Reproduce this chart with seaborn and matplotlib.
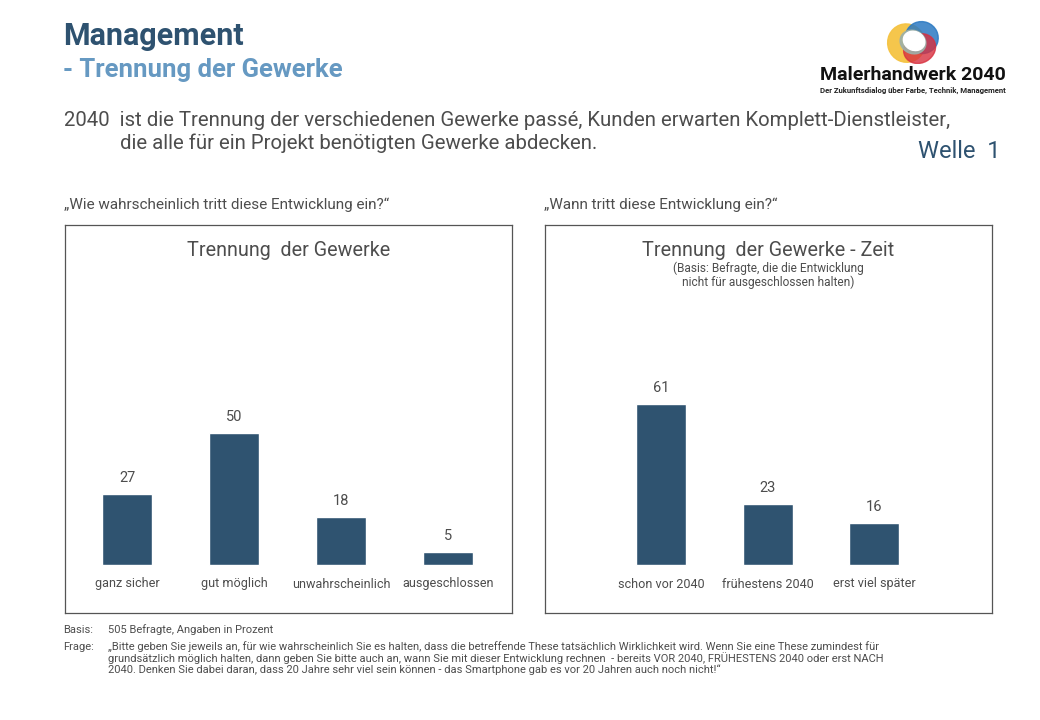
import matplotlib
matplotlib.use("Agg")
import matplotlib.pyplot as plt
import matplotlib.patches as mpatches
import seaborn as sns
import pandas as pd

# ---------------- data ----------------
cats_left = ["ganz sicher", "gut möglich", "unwahrscheinlich", "ausgeschlossen"]
vals_left = [27, 50, 18, 5]
cats_right = ["schon vor 2040", "frühestens 2040", "erst viel später"]
vals_right = [61, 23, 16]

title_main = "Management"
title_sub = "- Trennung der Gewerke"
statement_1 = "2040  ist die Trennung der verschiedenen Gewerke passé, Kunden erwarten Komplett-Dienstleister,"
statement_2 = "die alle für ein Projekt benötigten Gewerke abdecken."
wave = "Welle  1"
q_left = "„Wie wahrscheinlich tritt diese Entwicklung ein?“"
q_right = "„Wann tritt diese Entwicklung ein?“"
panel_left = "Trennung  der Gewerke"
panel_right = "Trennung  der Gewerke - Zeit"
panel_right_sub = "(Basis: Befragte, die die Entwicklung\nnicht für ausgeschlossen halten)"
basis = "505 Befragte, Angaben in Prozent"
frage = ("„Bitte geben Sie jeweils an, für wie wahrscheinlich Sie es halten, dass die betreffende These tatsächlich Wirklichkeit wird. Wenn Sie eine These zumindest für\n"
         "grundsätzlich möglich halten, dann geben Sie bitte auch an, wann Sie mit dieser Entwicklung rechnen  - bereits VOR 2040, FRÜHESTENS 2040 oder erst NACH\n"
         "2040. Denken Sie dabei daran, dass 20 Jahre sehr viel sein können - das Smartphone gab es vor 20 Jahren auch noch nicht!“")

# ---------------- style ----------------
sns.set_theme(style="white")
plt.rcParams["font.family"] = ["Roboto", "DejaVu Sans"]

BAR = "#2F5370"
DARK = "#2E5270"
LIGHT = "#6699C2"
GREY = "#4D4D4D"
W, H = 1040, 720

fig = plt.figure(figsize=(10.4, 7.2), dpi=100)
fig.patch.set_facecolor("white")


def fx(x):
    return x / W


def fy(y):
    return 1 - y / H


def ftext(x, y, s, **kw):
    return fig.text(fx(x), fy(y), s, **kw)


# header
ftext(63, 36, title_main, fontsize=22, fontweight="bold", color=DARK, va="center")
ftext(63, 70, title_sub, fontsize=18.5, fontweight="bold", color=LIGHT, va="center")
ftext(64, 121, statement_1, fontsize=14.7, color=GREY, va="center")
ftext(120, 143, statement_2, fontsize=14.7, color=GREY, va="center")
ftext(1000, 151, wave, fontsize=17, color=DARK, va="center", ha="right")

# logo
lax = fig.add_axes([fx(884), fy(64), fx(58), 44 / H])
lax.set_xlim(-1.3, 1.3)
lax.set_ylim(-1.0, 1.0)
lax.set_aspect("equal")
lax.axis("off")
lax.add_patch(mpatches.Ellipse((-0.3, -0.05), 1.7, 1.75, angle=20, color="#F5C342", alpha=0.95))
lax.add_patch(mpatches.Ellipse((0.4, 0.2), 1.5, 1.45, angle=-20, color="#2B79C2", alpha=0.85))
lax.add_patch(mpatches.Ellipse((0.3, -0.3), 1.5, 1.3, angle=30, color="#D8303F", alpha=0.8))
lax.add_patch(mpatches.Ellipse((0.0, 0.0), 1.2, 1.05, angle=-25, color="#9DB0A8", alpha=0.9))
lax.add_patch(mpatches.Ellipse((0.05, 0.05), 1.0, 0.85, angle=-25, color="white"))
ftext(1006, 75, "Malerhandwerk 2040", fontsize=14, fontweight="bold", color="#111111", va="center", ha="right")
ftext(1006, 90, "Der Zukunftsdialog über Farbe, Technik, Management", fontsize=5.6, fontweight="bold",
      color="#222222", va="center", ha="right")

# questions
ftext(64, 205, q_left, fontsize=11, color=GREY, va="center")
ftext(544, 205, q_right, fontsize=11, color=GREY, va="center")

PX_PER_UNIT = 2.64
BASE = 565
TOP, BOT = 225, 613


def panel(x0, x1, cats, vals, center0, spacing, title, sub=None):
    ax = fig.add_axes([fx(x0), fy(BOT), fx(x1 - x0), (BOT - TOP) / H])
    df = pd.DataFrame({"cat": cats, "val": vals})
    sns.barplot(data=df, x="cat", y="val", color=BAR, saturation=1, width=50 / spacing, ax=ax)
    ax.set_xlim(-(center0 - x0) / spacing, len(cats) - 1 + (x1 - center0 - (len(cats) - 1) * spacing) / spacing)
    ax.set_ylim(-(BOT - BASE) / PX_PER_UNIT, (BASE - TOP) / PX_PER_UNIT)
    ax.set_xticks([])
    ax.set_yticks([])
    ax.set_xlabel("")
    ax.set_ylabel("")
    for s in ax.spines.values():
        s.set_visible(True)
        s.set_color("#555555")
        s.set_linewidth(0.9)
    for i, (c, v) in enumerate(zip(cats, vals)):
        ax.text(i, v + 16 / PX_PER_UNIT, str(v), ha="center", va="center", fontsize=10.5, color=GREY)
        ax.text(i, -19 / PX_PER_UNIT, c, ha="center", va="center", fontsize=9.1, color=GREY)
    ax.text(0.5, (BOT - 250) / (BOT - TOP), title, transform=ax.transAxes, ha="center", va="center",
            fontsize=14.2, color=GREY)
    if sub:
        ax.text(0.5, (BOT - 275) / (BOT - TOP), sub, transform=ax.transAxes, ha="center", va="center",
                fontsize=8.6, color=GREY, linespacing=1.05)
    return ax


panel(65, 512, cats_left, vals_left, 127, 107, panel_left)
panel(545, 992, cats_right, vals_right, 661, 106.5, panel_right, panel_right_sub)

# footer
ftext(63, 630, "Basis:", fontsize=8.0, color=GREY, va="center")
ftext(108, 630, basis, fontsize=8.0, color=GREY, va="center")
ftext(63, 647, "Frage:", fontsize=8.0, color=GREY, va="center")
ftext(108, 641, frage, fontsize=8.0, color=GREY, va="top", linespacing=1.05)

fig.savefig("out.png", dpi=100, facecolor="white")
